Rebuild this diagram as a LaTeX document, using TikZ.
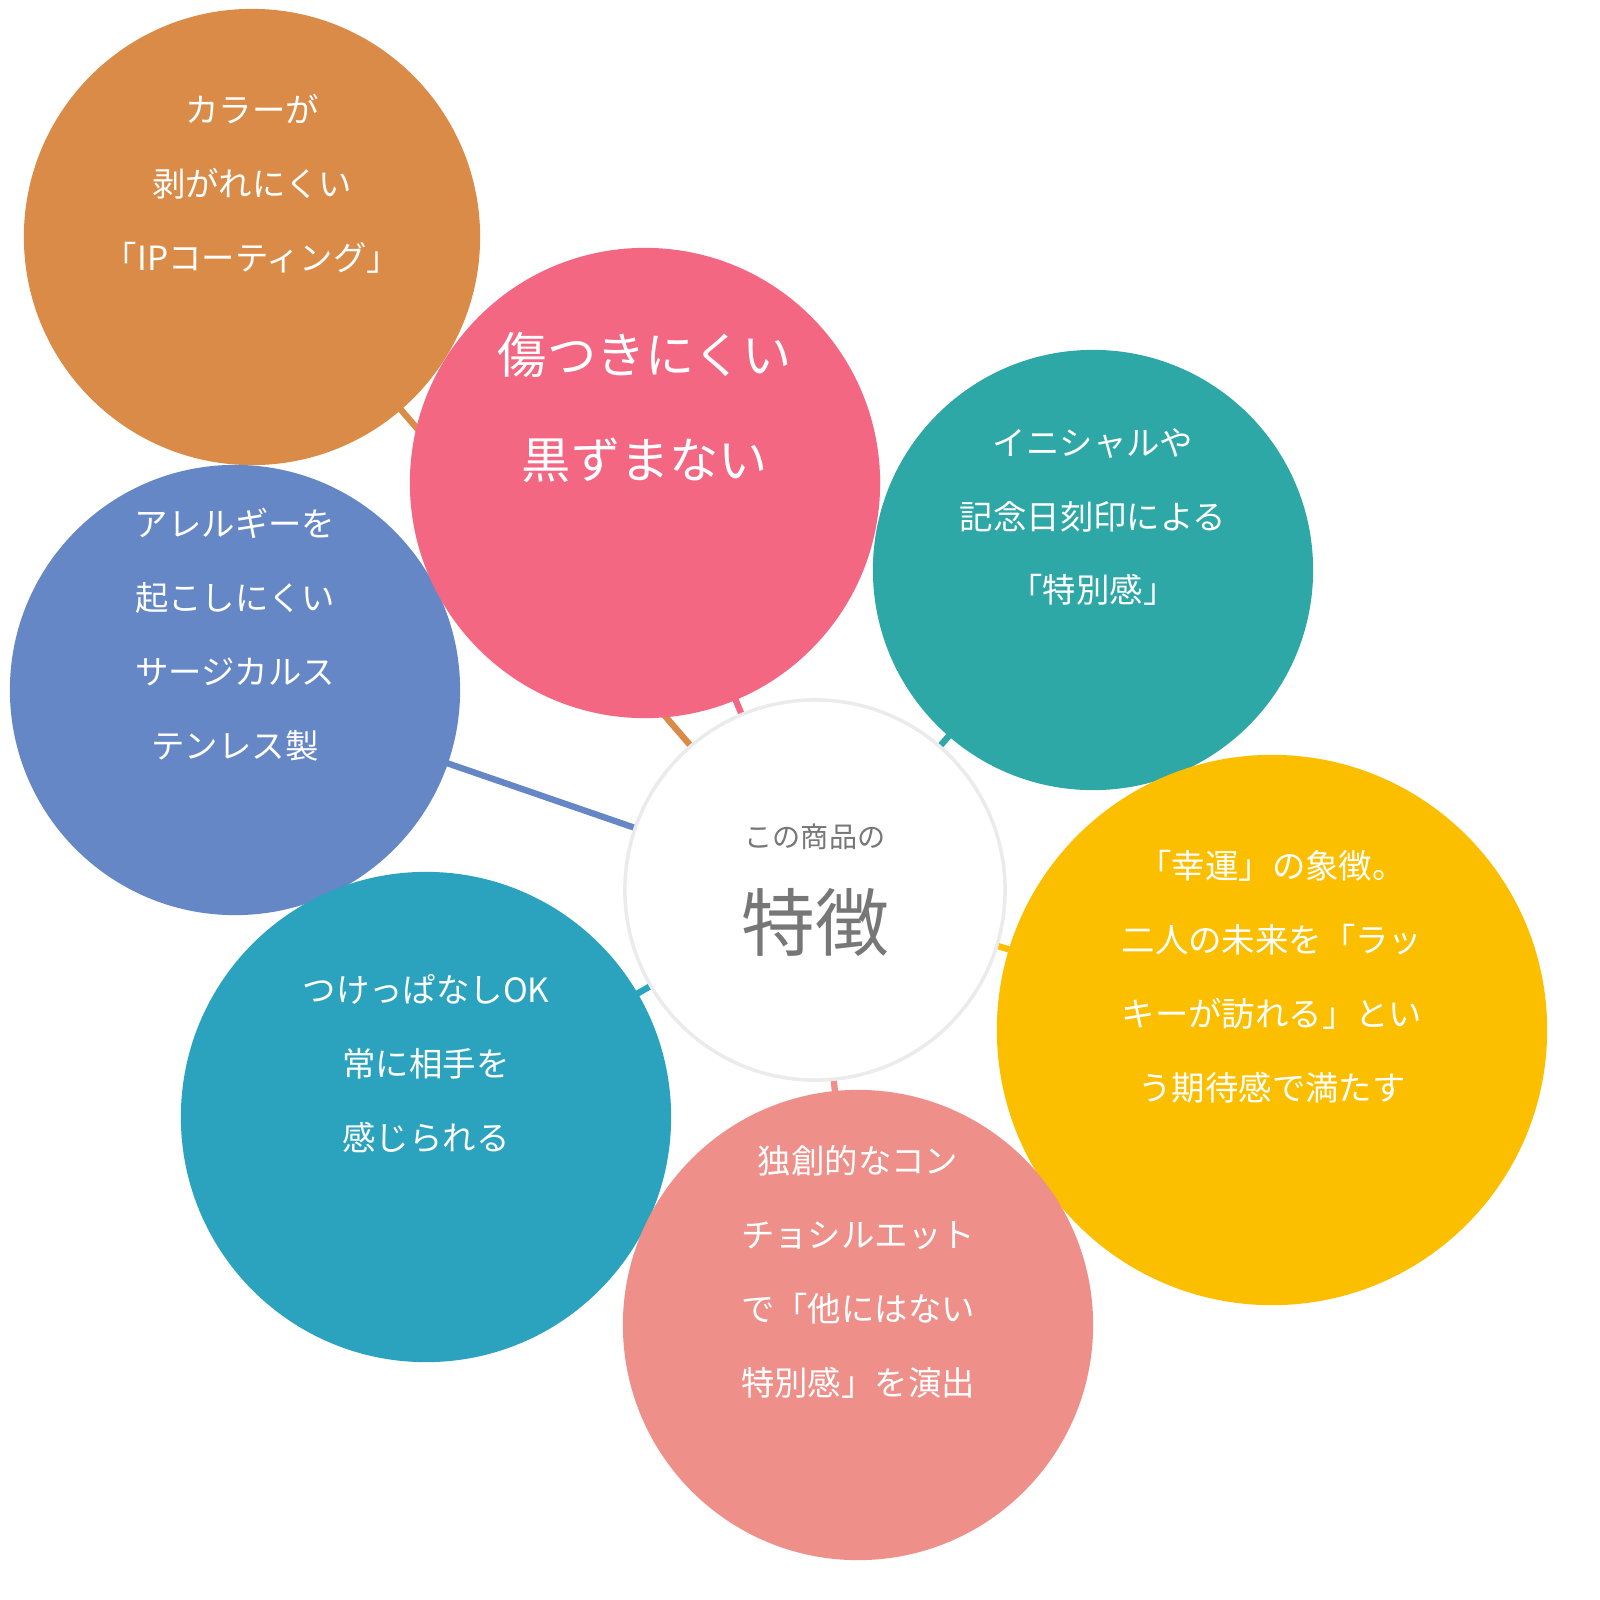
\documentclass[tikz,border=0pt]{standalone}
\usepackage{fontspec}
\setmainfont{Noto Sans CJK JP}
\usetikzlibrary{positioning,backgrounds}
\definecolor{corange}{HTML}{D98B47}
\definecolor{cpink}{HTML}{F36783}
\definecolor{cteal}{HTML}{2EA8A6}
\definecolor{cblue}{HTML}{6587C5}
\definecolor{cyellow}{HTML}{FBBF00}
\definecolor{ccyan}{HTML}{2BA3BE}
\definecolor{csalmon}{HTML}{EE8F89}
\definecolor{cgray}{HTML}{777777}
\begin{document}
\begin{tikzpicture}[x=0.01cm, y=-0.01cm,
    bubble/.style={circle, inner sep=0pt, text=white, align=center,
      font=\fontsize{9.5}{21}\selectfont},
    link/.style={line width=1.8pt}]
    \useasboundingbox (0,0) rectangle (1600,1600);
    % Bubbles
    \node[bubble, fill=corange, minimum size=4.56cm] (color) at (252,237) {カラーが\\剥がれにくい\\「IPコーティング」\\[0.35cm]};
    \node[bubble, fill=cblue, minimum size=4.5cm] (allergy) at (235,690) {アレルギーを\\起こしにくい\\サージカルス\\テンレス製\\[0.4cm]};
    \node[bubble, fill=cpink, minimum size=4.7cm, font=\fontsize{14}{30}\selectfont] (scratch) at (645,483) {傷つきにくい\\黒ずまない\\[0.5cm]};
    \node[bubble, fill=cteal, minimum size=4.4cm] (engrave) at (1093,570) {イニシャルや\\記念日刻印による\\「特別感」\\[0.35cm]};
    \node[bubble, fill=cyellow, minimum size=5.5cm] (luck) at (1272,1030) {「幸運」の象徴。\\二人の未来を「ラッ\\キーが訪れる」とい\\う期待感で満たす\\[0.35cm]};
    \node[bubble, fill=ccyan, minimum size=4.9cm] (wear) at (426,1117) {つけっぱなしOK\\常に相手を\\感じられる\\[0.35cm]};
    \node[bubble, fill=csalmon, minimum size=4.7cm] (shape) at (858,1325) {独創的なコン\\チョシルエット\\で「他にはない\\特別感」を演出\\[0.35cm]};
    % Center
    \node[circle, fill=white, draw=black!8, line width=1pt, minimum size=3.8cm, inner sep=0pt,
      text=cgray, align=center] (center) at (815,890) {{\fontsize{8}{10}\selectfont この商品の}\\[10pt]{\fontsize{21}{24}\selectfont 特徴}};
    % Links
    \begin{scope}[on background layer]
    \draw[link, corange] (center.center) -- (color.center);
    \draw[link, cblue] (center.center) -- (allergy.center);
    \draw[link, cpink] (center.center) -- (scratch.center);
    \draw[link, cteal] (center.center) -- (engrave.center);
    \draw[link, cyellow] (center.center) -- (luck.center);
    \draw[link, ccyan] (center.center) -- (wear.center);
    \draw[link, csalmon] (center.center) -- (shape.center);
    \end{scope}
\end{tikzpicture}
\end{document}
